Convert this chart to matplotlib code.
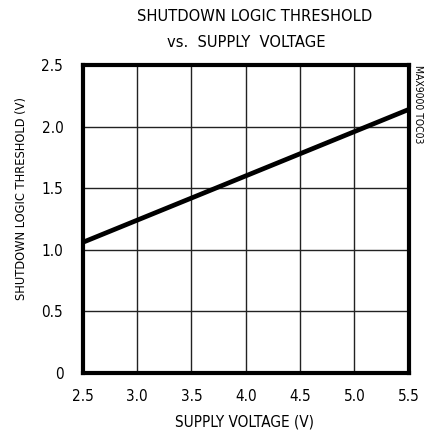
import matplotlib
matplotlib.use("Agg")
import matplotlib.pyplot as plt

supply_v = [2.5, 3.0, 3.5, 4.0, 4.5, 5.0, 5.5]
threshold_v = [1.06, 1.24, 1.42, 1.60, 1.78, 1.96, 2.14]
xticks = [2.5, 3.0, 3.5, 4.0, 4.5, 5.0, 5.5]
yticks = [0, 0.5, 1.0, 1.5, 2.0, 2.5]
ytick_labels = ["0", "0.5", "1.0", "1.5", "2.0", "2.5"]

plt.rcParams["font.family"] = ["DejaVu Sans"]
plt.rcParams["font.stretch"] = "condensed"

fig = plt.figure(figsize=(4.29, 4.34), dpi=100)
ax = fig.add_axes([0.193, 0.141, 0.760, 0.709])

ax.plot(supply_v, threshold_v, color="black", linewidth=3.4, solid_capstyle="butt", zorder=3)

ax.set_xlim(2.5, 5.5)
ax.set_ylim(0, 2.5)
ax.set_xticks(xticks)
ax.set_xticklabels([f"{v:.1f}" for v in xticks])
ax.set_yticks(yticks)
ax.set_yticklabels(ytick_labels)
ax.tick_params(length=0, labelsize=11)
ax.tick_params(axis="x", pad=12)
ax.tick_params(axis="y", pad=14)
ax.grid(True, color="#222222", linewidth=1.0)
for s in ax.spines.values():
    s.set_linewidth(3.0)

ax.set_xlabel("SUPPLY VOLTAGE (V)", fontsize=11)
ax.xaxis.set_label_coords(0.497, -0.136)
ax.set_ylabel("SHUTDOWN LOGIC THRESHOLD (V)", fontsize=9.2)
ax.yaxis.set_label_coords(-0.169, 0.565)
fig.text(0.594, 0.962, "SHUTDOWN LOGIC THRESHOLD", ha="center", va="center", fontsize=11.8)
fig.text(0.575, 0.903, "vs.  SUPPLY  VOLTAGE", ha="center", va="center", fontsize=11.8)
fig.text(0.975, 0.85, "MAX9000 TOC03", rotation=270, ha="center", va="top", fontsize=7.5)

fig.savefig("out.png", dpi=100)
